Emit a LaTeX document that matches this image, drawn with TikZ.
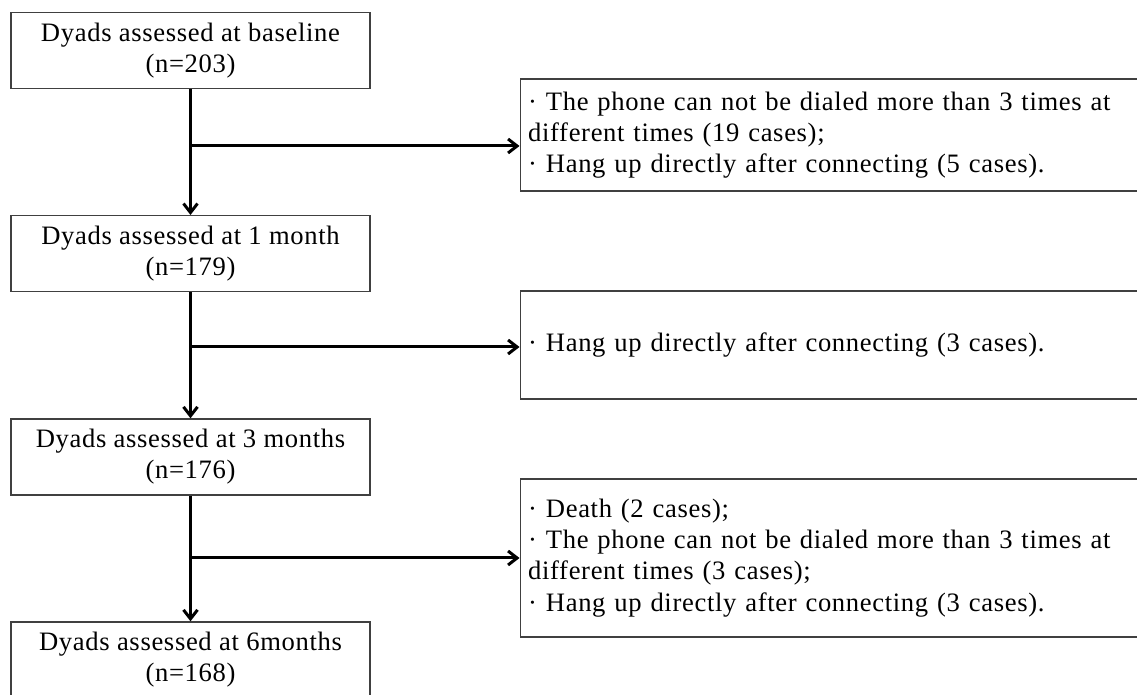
\documentclass[tikz,border=0pt]{standalone}
\usepackage{fontspec}
\setmainfont[LetterSpace=2.5]{Liberation Serif}
\usetikzlibrary{arrows.meta,positioning}

\begin{document}
\begin{tikzpicture}[x=0.5pt, y={(0pt,-0.5pt)},
  every node/.style={font=\fontsize{13.3}{15.6}\selectfont},
  stage/.style={draw=black!75,line width=0.7pt,minimum width=179.5pt,minimum height=38pt,inner sep=0pt,align=center},
  loss/.style={draw=black!75,line width=0.7pt,anchor=west,text width=311pt,inner xsep=4pt,inner ysep=0pt,align=left},
  flow/.style={line width=1.5pt,-{Straight Barb[length=4.5pt,width=7pt]}}]
  \useasboundingbox (0,0) rectangle (1137,695);
  % follow-up stages
  \node[stage] (m0) at (190.5,50.5) {Dyads assessed at baseline\\(n=203)};
  \node[stage] (m1) at (190.5,253.7) {Dyads assessed at 1 month\\(n=179)};
  \node[stage] (m3) at (190.5,457) {Dyads assessed at 3 months\\(n=176)};
  \node[stage] (m6) at (190.5,660) {Dyads assessed at 6months\\(n=168)};
  % losses
  \node[loss,minimum height=56pt] (l1) at (519.5,135) {· The phone can not be dialed more than 3 times at\\different times (19 cases);\\· Hang up directly after connecting (5 cases).};
  \node[loss,minimum height=54pt] (l3) at (519.5,345) {· Hang up directly after connecting (3 cases).};
  \node[loss,minimum height=79pt] (l6) at (519.5,558) {· Death (2 cases);\\· The phone can not be dialed more than 3 times at\\different times (3 cases);\\· Hang up directly after connecting (3 cases).};
  \foreach \a/\b in {m0/m1,m1/m3,m3/m6}
    \draw[flow] (\a) -- (\b);
  \coordinate (s1) at (190.5,146);
  \coordinate (s3) at (190.5,347);
  \coordinate (s6) at (190.5,558);
  \draw[flow] (s1) -- (s1 -| l1.west);
  \draw[flow] (s3) -- (s3 -| l3.west);
  \draw[flow] (s6) -- (s6 -| l6.west);
\end{tikzpicture}
\end{document}
